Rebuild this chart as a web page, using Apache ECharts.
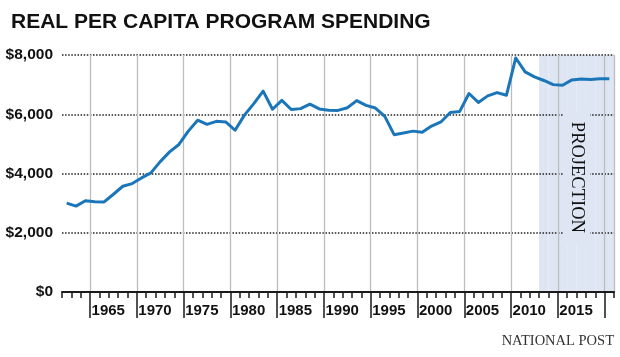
<!DOCTYPE html>
<html>
<head>
<meta charset="utf-8">
<script src="https://cdn.jsdelivr.net/npm/echarts@6/dist/echarts.min.js"></script>
<style>
html,body{margin:0;padding:0;background:#fff;}
#chart{width:620px;height:357px;}
</style>
</head>
<body>
<div id="chart"></div>
<script>
// ---- data ----
const years = ['1962','1963','1964','1965','1966','1967','1968','1969','1970','1971',
  '1972','1973','1974','1975','1976','1977','1978','1979','1980','1981',
  '1982','1983','1984','1985','1986','1987','1988','1989','1990','1991',
  '1992','1993','1994','1995','1996','1997','1998','1999','2000','2001',
  '2002','2003','2004','2005','2006','2007','2008','2009','2010','2011',
  '2012','2013','2014','2015','2016','2017','2018','2019','2020'];
const spending = [3000,2900,3080,3050,3040,3300,3570,3660,3850,4020,
  4400,4730,4980,5430,5800,5660,5760,5740,5460,5970,
  6360,6780,6170,6470,6160,6190,6340,6180,6135,6130,
  6220,6460,6300,6210,5930,5310,5370,5430,5390,5600,
  5740,6060,6090,6700,6400,6620,6730,6640,7900,7430,
  7260,7140,7000,6980,7160,7190,7170,7200,7200];
const boundaryYears = years.concat(['2021']);
const labelledYears = ['1965','1970','1975','1980','1985','1990','1995','2000','2005','2010','2015'];
const projectionStart = '2013';
const yTicks = [0, 2000, 4000, 6000, 8000];
const titleText = 'REAL PER CAPITA PROGRAM SPENDING';
const sourceText = 'NATIONAL POST';
const projectionText = 'PROJECTION';

const yMax = yTicks[yTicks.length - 1];
const projIdx = years.indexOf(projectionStart);
const projection = years.map((y, i) => i >= projIdx ? yMax : '-');
const isMajor = (y) => Number(y) % 5 === 0;

const shade = '#dfe6f3';
const dark = '#1a1a1a';
const labelFont = 'Liberation Sans, Arial, sans-serif';

const chart = echarts.init(document.getElementById('chart'), null, {renderer: 'canvas'});
const option = {
  animation: false,
  backgroundColor: '#fff',
  title: {
    text: titleText,
    left: 6, top: 7,
    textStyle: {fontFamily: labelFont, fontWeight: 900, fontSize: 21, color: '#111'}
  },
  grid: {left: 62, right: 6, top: 55, bottom: 65, containLabel: false, outerBoundsMode: 'none'},
  xAxis: [{
    type: 'category',
    data: years,
    boundaryGap: true,
    z: 2,
    axisLine: {show: true, lineStyle: {color: dark, width: 2}},
    axisTick: {show: true, interval: 0, length: 6, lineStyle: {color: dark, width: 1.5}},
    axisLabel: {show: false},
    splitLine: {
      show: true,
      interval: (i) => isMajor(years[i]),
      lineStyle: {color: '#bdbdbd', width: 1.3}
    }
  }, {
    type: 'category',
    data: boundaryYears,
    boundaryGap: false,
    position: 'bottom',
    offset: 0,
    z: 2,
    axisLine: {show: false},
    axisTick: {show: true, interval: (i, v) => isMajor(v), length: 26, lineStyle: {color: dark, width: 1.5}},
    axisLabel: {
      show: true,
      interval: (i, v) => labelledYears.indexOf(v) >= 0,
      align: 'left',
      margin: 11,
      padding: [0, 0, 0, 1.5],
      fontFamily: labelFont, fontWeight: 'bold', fontSize: 15, color: '#111'
    },
    splitLine: {show: false}
  }],
  yAxis: {
    type: 'value',
    min: 0, max: yMax, interval: 2000,
    z: 2,
    axisLine: {show: false},
    axisTick: {show: false},
    axisLabel: {
      margin: 9,
      formatter: (v) => '$' + v.toLocaleString('en-US'),
      fontFamily: labelFont, fontWeight: 'bold', fontSize: 15.5, color: '#111'
    },
    splitLine: {show: true, lineStyle: {color: '#222', width: 1.5, type: [1.5, 1.6]}}
  },
  series: [{
    type: 'bar',
    xAxisIndex: 0,
    data: projection,
    barCategoryGap: '0%',
    barGap: '0%',
    z: 1,
    itemStyle: {color: shade, borderColor: shade, borderWidth: 1.4},
    silent: true
  }, {
    type: 'line',
    xAxisIndex: 0,
    data: spending,
    z: 3,
    showSymbol: false,
    symbol: 'none',
    lineStyle: {color: '#1b76b9', width: 3, join: 'round'}
  }]
};
chart.setOption(option);

const midBoundary = boundaryYears[Math.round((projIdx + boundaryYears.length - 1) / 2)];
const px = chart.convertToPixel({xAxisIndex: 1}, midBoundary);
const py = chart.convertToPixel({yAxisIndex: 0}, 3870);
const right = chart.convertToPixel({xAxisIndex: 1}, boundaryYears[boundaryYears.length - 1]);
chart.setOption({
  graphic: [{
    type: 'text',
    x: px, y: py,
    rotation: -Math.PI / 2,
    z: 10,
    style: {
      text: projectionText,
      fontFamily: 'Liberation Serif, Times New Roman, serif',
      fontSize: 18.5,
      fill: '#111',
      align: 'center',
      verticalAlign: 'middle',
      backgroundColor: shade,
      padding: [5, 11, 3, 11]
    }
  }, {
    type: 'text',
    x: right, y: 341,
    z: 10,
    style: {
      text: sourceText,
      fontFamily: 'Liberation Serif, Times New Roman, serif',
      fontSize: 14.5,
      fill: '#333',
      align: 'right',
      verticalAlign: 'middle'
    }
  }]
});
</script>
</body>
</html>
